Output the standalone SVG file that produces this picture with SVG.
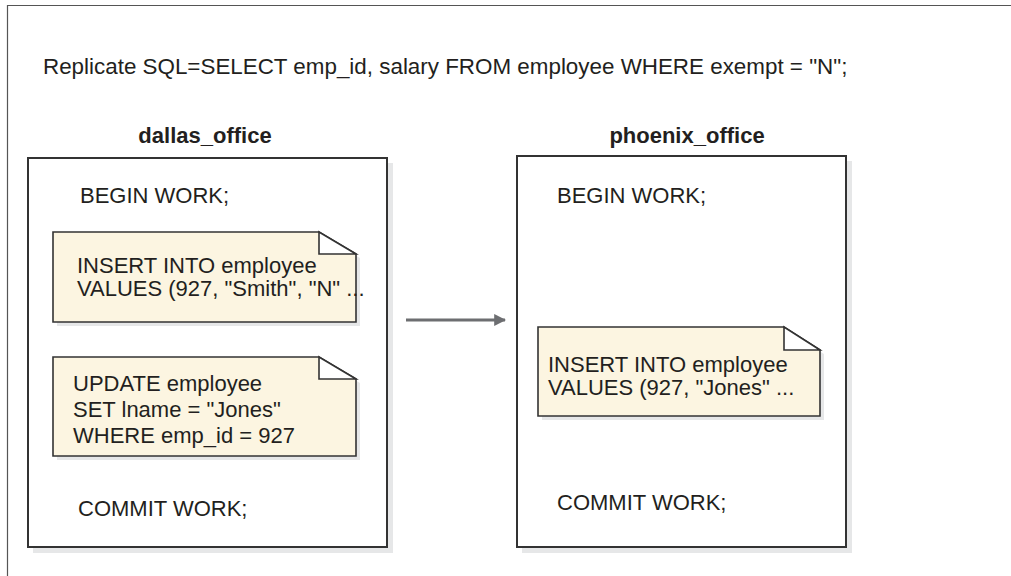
<svg xmlns="http://www.w3.org/2000/svg" width="1011" height="576" viewBox="0 0 1011 576">
<defs>
<style>
text{font-family:"Liberation Sans",Arial,Helvetica,sans-serif;font-size:22px;fill:#231f20}
.b{font-weight:bold}
.t{font-size:22.4px}
.box{fill:#fff;stroke:#333;stroke-width:2}
.sh{fill:#e6e7e8}
.note{fill:#fcf5e1;stroke:#333;stroke-width:1.6}
.fold{fill:#fff;stroke:#333;stroke-width:1.6;stroke-linejoin:miter}
.conn{stroke:#6d6e71;stroke-width:3;fill:none}
</style>
<marker id="ah" viewBox="0 0 10 10" refX="9" refY="5" markerWidth="4" markerHeight="4" orient="auto" markerUnits="strokeWidth">
<path d="M0,0 L10,5 L0,10 Z" fill="#6d6e71"/>
</marker>
</defs>
<rect width="1011" height="576" fill="#fff"/>
<path d="M7.5,576 V5.5 H1011" fill="none" stroke="#555" stroke-width="1.2"/>
<text class="t" x="43" y="74">Replicate SQL=SELECT emp_id, salary FROM employee WHERE exempt = "N";</text>

<g id="dallas_office">
<text class="b" x="205" y="143" text-anchor="middle">dallas_office</text>
<rect class="sh" x="33" y="163" width="360" height="390"/>
<rect class="box" x="28" y="158" width="359" height="389"/>
<text x="80" y="203">BEGIN WORK;</text>
<text x="78" y="516">COMMIT WORK;</text>
</g>

<g id="note_insert_dallas">
<path class="sh" d="M57,236 H323 L360,258 V326 H57 Z"/>
<path class="note" d="M53,232 H319 L356,254 V322 H53 Z"/>
<path class="fold" d="M319,232 V254 H356 Z"/>
<text x="77" y="273">INSERT INTO employee</text>
<text x="77" y="296">VALUES (927, "Smith", "N" ...</text>
</g>

<g id="note_update_dallas">
<path class="sh" d="M57,361 H323 L360,383 V460 H57 Z"/>
<path class="note" d="M53,357 H319 L356,379 V456 H53 Z"/>
<path class="fold" d="M319,357 V379 H356 Z"/>
<text x="73" y="391">UPDATE employee</text>
<text x="73" y="417">SET lname = "Jones"</text>
<text x="73" y="443">WHERE emp_id = 927</text>
</g>

<g id="phoenix_office">
<text class="b" x="687" y="143" text-anchor="middle">phoenix_office</text>
<rect class="sh" x="522" y="161" width="330" height="392"/>
<rect class="box" x="517" y="156" width="329" height="391"/>
<text x="557" y="203">BEGIN WORK;</text>
<text x="557" y="510">COMMIT WORK;</text>
</g>

<g id="note_insert_phoenix">
<path class="sh" d="M542,331 H788 L824,354 V420 H542 Z"/>
<path class="note" d="M538,327 H784 L820,350 V416 H538 Z"/>
<path class="fold" d="M784,327 V350 H820 Z"/>
<text x="548" y="372">INSERT INTO employee</text>
<text x="548" y="395">VALUES (927, "Jones" ...</text>
</g>

<g id="connectors">
<line class="conn" x1="406" y1="320" x2="505" y2="320" marker-end="url(#ah)"/>
</g>
</svg>
